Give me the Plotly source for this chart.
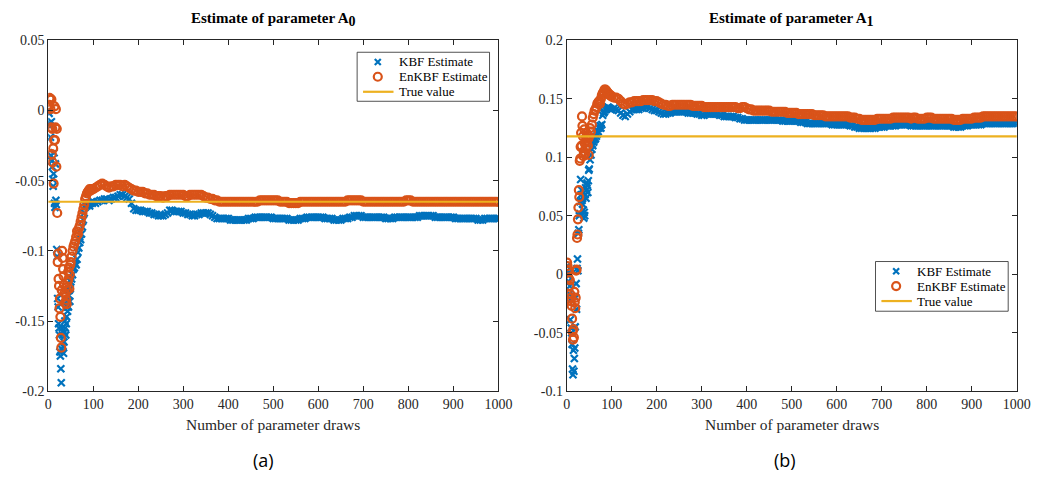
import plotly.graph_objects as go

# Draw numbers at which the estimates are shown
DRAWS = list(range(1, 51)) + list(range(52, 101, 2)) + list(range(105, 1001, 5))

TRUE_A0 = -0.065
TRUE_A1 = 0.118

kbf_a0 = [
    0.000, -0.002, -0.009, -0.011, -0.019, -0.032, -0.008, -0.036, -0.040, -0.049,
    -0.054, -0.045, -0.030, -0.066, -0.069, -0.038, -0.064, -0.067, -0.099, -0.104,
    -0.134, -0.140, -0.152, -0.155, -0.160, -0.172, -0.175, -0.184, -0.194, -0.170,
    -0.155, -0.160, -0.168, -0.173, -0.165, -0.158, -0.150, -0.155, -0.160, -0.152,
    -0.147, -0.140, -0.143, -0.135, -0.140, -0.132, -0.128, -0.136, -0.127, -0.122,
    -0.120, -0.117, -0.113, -0.112, -0.109, -0.110, -0.106, -0.101, -0.098, -0.094,
    -0.092, -0.088, -0.083, -0.078, -0.073, -0.069, -0.067, -0.068, -0.066, -0.067,
    -0.068, -0.066, -0.065, -0.066, -0.065,
    -0.066, -0.065, -0.064, -0.064, -0.063, -0.063, -0.064, -0.063, -0.062, -0.062,
    -0.061, -0.060, -0.060, -0.061, -0.062, -0.063, -0.066, -0.070, -0.071, -0.071,
    -0.071, -0.072, -0.072, -0.072, -0.073, -0.073, -0.074, -0.074, -0.075, -0.075,
    -0.075, -0.074, -0.073, -0.071, -0.071, -0.072, -0.072, -0.072, -0.072, -0.073,
    -0.073, -0.074, -0.074, -0.075, -0.075, -0.074, -0.074, -0.073, -0.073, -0.073,
    -0.073, -0.074, -0.075, -0.076, -0.077, -0.077, -0.077, -0.077, -0.077, -0.077,
    -0.078, -0.078, -0.078, -0.078, -0.078, -0.078, -0.078, -0.078, -0.077, -0.077,
    -0.077, -0.076, -0.076, -0.076, -0.076, -0.076, -0.076, -0.076, -0.076, -0.077,
    -0.077, -0.077, -0.077, -0.077, -0.077, -0.077, -0.078, -0.078, -0.078, -0.078,
    -0.078, -0.077, -0.077, -0.077, -0.076, -0.076, -0.076, -0.076, -0.076, -0.076,
    -0.076, -0.076, -0.077, -0.077, -0.077, -0.077, -0.078, -0.078, -0.078, -0.078,
    -0.077, -0.077, -0.077, -0.076, -0.076, -0.075, -0.075, -0.075, -0.075, -0.076,
    -0.076, -0.076, -0.076, -0.076, -0.076, -0.076, -0.076, -0.076, -0.076, -0.077,
    -0.077, -0.077, -0.077, -0.076, -0.076, -0.076, -0.076, -0.076, -0.076, -0.076,
    -0.076, -0.076, -0.076, -0.076, -0.075, -0.075, -0.075, -0.075, -0.075, -0.075,
    -0.075, -0.076, -0.076, -0.076, -0.076, -0.076, -0.076, -0.076, -0.076, -0.076,
    -0.077, -0.077, -0.077, -0.077, -0.077, -0.077, -0.077, -0.077, -0.077, -0.077,
    -0.078, -0.078, -0.078, -0.077, -0.077, -0.077, -0.077, -0.077, -0.077, -0.077,
]

enkbf_a0 = [
    0.002, 0.004, 0.009, 0.008, 0.001, -0.012, 0.008, -0.031, -0.013, -0.037,
    -0.027, -0.052, -0.021, 0.003, -0.021, -0.012, 0.001, -0.040, -0.013, -0.073,
    -0.108, -0.102, -0.120, -0.125, -0.141, -0.134, -0.147, -0.162, -0.169, -0.128,
    -0.100, -0.105, -0.113, -0.118, -0.124, -0.130, -0.137, -0.131, -0.126, -0.135,
    -0.138, -0.128, -0.122, -0.115, -0.120, -0.112, -0.127, -0.117, -0.110, -0.108,
    -0.104, -0.100, -0.097, -0.095, -0.093, -0.090, -0.086, -0.088, -0.084, -0.082,
    -0.079, -0.076, -0.073, -0.070, -0.067, -0.063, -0.061, -0.059, -0.058, -0.057,
    -0.056, -0.057, -0.056, -0.056, -0.056,
    -0.055, -0.054, -0.053, -0.052, -0.053, -0.054, -0.055, -0.054, -0.054, -0.053,
    -0.053, -0.053, -0.054, -0.053, -0.054, -0.055, -0.056, -0.057, -0.057, -0.058,
    -0.058, -0.058, -0.059, -0.059, -0.060, -0.060, -0.060, -0.061, -0.061, -0.061,
    -0.062, -0.061, -0.061, -0.060, -0.060, -0.060, -0.060, -0.060, -0.060, -0.060,
    -0.061, -0.061, -0.060, -0.060, -0.060, -0.060, -0.060, -0.060, -0.061, -0.062,
    -0.062, -0.063, -0.063, -0.064, -0.064, -0.065, -0.065, -0.065, -0.065, -0.065,
    -0.065, -0.065, -0.065, -0.065, -0.065, -0.065, -0.065, -0.065, -0.065, -0.065,
    -0.065, -0.065, -0.065, -0.064, -0.064, -0.064, -0.064, -0.064, -0.064, -0.064,
    -0.064, -0.064, -0.065, -0.065, -0.065, -0.065, -0.066, -0.066, -0.066, -0.066,
    -0.066, -0.065, -0.065, -0.065, -0.065, -0.065, -0.065, -0.065, -0.065, -0.065,
    -0.065, -0.065, -0.065, -0.065, -0.065, -0.065, -0.065, -0.065, -0.065, -0.065,
    -0.065, -0.065, -0.064, -0.064, -0.064, -0.064, -0.064, -0.064, -0.064, -0.065,
    -0.065, -0.065, -0.065, -0.065, -0.065, -0.065, -0.065, -0.065, -0.065, -0.065,
    -0.065, -0.065, -0.065, -0.065, -0.065, -0.065, -0.065, -0.065, -0.064, -0.064,
    -0.064, -0.065, -0.065, -0.065, -0.065, -0.065, -0.065, -0.065, -0.065, -0.065,
    -0.065, -0.065, -0.065, -0.065, -0.065, -0.065, -0.065, -0.065, -0.065, -0.065,
    -0.065, -0.065, -0.065, -0.065, -0.065, -0.065, -0.065, -0.065, -0.065, -0.065,
    -0.065, -0.065, -0.065, -0.065, -0.065, -0.065, -0.065, -0.065, -0.065, -0.065,
]

kbf_a1 = [
    0.007, 0.003, -0.001, -0.006, 0.001, -0.017, -0.010, -0.039, -0.022, -0.046,
    -0.050, -0.060, -0.081, -0.086, -0.065, -0.083, -0.072, -0.063, -0.045, -0.020,
    -0.008, -0.030, 0.005, 0.013, 0.003, 0.035, 0.038, 0.050, 0.052, 0.062,
    0.081, 0.068, 0.072, 0.063, 0.060, 0.066, 0.055, 0.048, 0.053, 0.050,
    0.068, 0.074, 0.065, 0.072, 0.078, 0.076, 0.070, 0.080, 0.089, 0.090,
    0.098, 0.102, 0.107, 0.110, 0.113, 0.115, 0.116, 0.118, 0.120, 0.122,
    0.125, 0.127, 0.125, 0.128, 0.136, 0.138, 0.139, 0.141, 0.142, 0.142,
    0.143, 0.142, 0.142, 0.141, 0.141,
    0.142, 0.141, 0.140, 0.138, 0.136, 0.135, 0.137, 0.139, 0.141, 0.141,
    0.141, 0.141, 0.142, 0.142, 0.143, 0.143, 0.142, 0.141, 0.140, 0.140,
    0.139, 0.138, 0.137, 0.137, 0.138, 0.138, 0.139, 0.139, 0.139, 0.139,
    0.139, 0.139, 0.139, 0.138, 0.138, 0.138, 0.138, 0.137, 0.137, 0.136,
    0.136, 0.137, 0.137, 0.137, 0.137, 0.137, 0.137, 0.136, 0.136, 0.135,
    0.135, 0.135, 0.135, 0.135, 0.134, 0.134, 0.133, 0.133, 0.132, 0.132,
    0.132, 0.132, 0.132, 0.132, 0.132, 0.132, 0.132, 0.132, 0.132, 0.132,
    0.132, 0.132, 0.132, 0.132, 0.132, 0.131, 0.131, 0.131, 0.131, 0.131,
    0.131, 0.131, 0.131, 0.130, 0.130, 0.130, 0.129, 0.129, 0.129, 0.129,
    0.129, 0.129, 0.129, 0.129, 0.129, 0.129, 0.129, 0.128, 0.128, 0.128,
    0.128, 0.128, 0.128, 0.128, 0.128, 0.127, 0.127, 0.126, 0.126, 0.125,
    0.125, 0.125, 0.125, 0.125, 0.125, 0.125, 0.125, 0.126, 0.126, 0.126,
    0.126, 0.127, 0.127, 0.127, 0.127, 0.127, 0.128, 0.128, 0.128, 0.128,
    0.128, 0.128, 0.127, 0.127, 0.127, 0.127, 0.127, 0.127, 0.127, 0.127,
    0.127, 0.127, 0.127, 0.127, 0.127, 0.127, 0.127, 0.127, 0.127, 0.127,
    0.127, 0.126, 0.126, 0.126, 0.126, 0.127, 0.127, 0.127, 0.128, 0.128,
    0.128, 0.128, 0.128, 0.128, 0.129, 0.129, 0.129, 0.129, 0.129, 0.129,
    0.129, 0.129, 0.129, 0.129, 0.129, 0.129, 0.129, 0.129, 0.129, 0.129,
]

enkbf_a1 = [
    0.010, 0.007, 0.004, -0.003, 0.003, -0.010, -0.005, -0.017, -0.023, -0.020,
    -0.027, -0.038, -0.049, -0.056, -0.047, -0.054, -0.015, -0.024, -0.029, -0.020,
    0.003, 0.004, 0.031, 0.034, 0.047, 0.057, 0.072, 0.066, 0.097, 0.099,
    0.109, 0.121, 0.110, 0.135, 0.127, 0.118, 0.101, 0.105, 0.124, 0.112,
    0.103, 0.108, 0.117, 0.121, 0.113, 0.119, 0.110, 0.116, 0.102, 0.118,
    0.125, 0.122, 0.128, 0.134, 0.137, 0.140, 0.141, 0.143, 0.146, 0.147,
    0.148, 0.146, 0.150, 0.153, 0.155, 0.156, 0.158, 0.158, 0.157, 0.156,
    0.155, 0.154, 0.153, 0.153, 0.152,
    0.151, 0.151, 0.150, 0.148, 0.146, 0.145, 0.146, 0.147, 0.147, 0.148,
    0.148, 0.148, 0.148, 0.149, 0.149, 0.149, 0.149, 0.149, 0.148, 0.148,
    0.147, 0.146, 0.145, 0.145, 0.144, 0.144, 0.145, 0.145, 0.145, 0.145,
    0.145, 0.145, 0.145, 0.145, 0.145, 0.144, 0.144, 0.144, 0.144, 0.144,
    0.143, 0.143, 0.143, 0.143, 0.143, 0.143, 0.143, 0.143, 0.143, 0.143,
    0.143, 0.143, 0.143, 0.143, 0.143, 0.142, 0.142, 0.143, 0.143, 0.142,
    0.141, 0.141, 0.140, 0.140, 0.140, 0.140, 0.140, 0.140, 0.140, 0.140,
    0.139, 0.139, 0.139, 0.139, 0.139, 0.139, 0.139, 0.138, 0.138, 0.138,
    0.138, 0.138, 0.137, 0.137, 0.137, 0.137, 0.137, 0.137, 0.137, 0.136,
    0.136, 0.136, 0.136, 0.136, 0.135, 0.135, 0.135, 0.135, 0.135, 0.135,
    0.135, 0.135, 0.135, 0.135, 0.135, 0.134, 0.134, 0.134, 0.133, 0.133,
    0.132, 0.132, 0.132, 0.132, 0.132, 0.132, 0.132, 0.133, 0.133, 0.133,
    0.133, 0.133, 0.133, 0.133, 0.134, 0.134, 0.134, 0.134, 0.134, 0.134,
    0.134, 0.134, 0.133, 0.134, 0.134, 0.133, 0.133, 0.133, 0.133, 0.134,
    0.134, 0.134, 0.133, 0.133, 0.133, 0.133, 0.133, 0.133, 0.133, 0.133,
    0.133, 0.132, 0.132, 0.132, 0.132, 0.133, 0.133, 0.133, 0.133, 0.133,
    0.134, 0.134, 0.134, 0.134, 0.135, 0.135, 0.135, 0.135, 0.135, 0.135,
    0.135, 0.135, 0.135, 0.135, 0.135, 0.135, 0.135, 0.135, 0.135, 0.135,
]

for series in (kbf_a0, enkbf_a0, kbf_a1, enkbf_a1):
    assert len(series) == len(DRAWS), len(series)

Y0_TICKS = [-0.2, -0.15, -0.1, -0.05, 0, 0.05]
Y0_LABELS = ["-0.2", "-0.15", "-0.1", "-0.05", "0", "0.05"]
Y1_TICKS = [-0.1, -0.05, 0, 0.05, 0.1, 0.15, 0.2]
Y1_LABELS = ["-0.1", "-0.05", "0", "0.05", "0.1", "0.15", "0.2"]
X_TICKS = list(range(0, 1001, 100))
SERIES_NAMES = ["KBF Estimate", "EnKBF Estimate", "True value"]

BLUE = "#0072BD"
ORANGE = "#D95319"
GOLD = "#EDB120"
AXIS = "#262626"
SERIF = "Liberation Serif, Times New Roman, serif"

W, H = 1050, 482


def px(x):
    return x / W


def py(y):
    return 1 - y / H


Y_DOM = [py(396.5), py(34.5)]
X1_DOM = [px(45), px(503)]
X2_DOM = [px(572.5), px(1030.5)]

KBF_MARKER = dict(symbol="x-thin", size=7, color=BLUE, line=dict(color=BLUE, width=2.2))
ENKBF_MARKER = dict(symbol="circle-open", size=8, color=ORANGE, line=dict(color=ORANGE, width=2.2))

fig = go.Figure()


def add_panel(kbf, enkbf, truth, xa, ya):
    fig.add_trace(go.Scatter(x=DRAWS, y=kbf, mode="markers", name=SERIES_NAMES[0],
                             xaxis=xa, yaxis=ya, showlegend=False, marker=KBF_MARKER))
    fig.add_trace(go.Scatter(x=DRAWS, y=enkbf, mode="markers", name=SERIES_NAMES[1],
                             xaxis=xa, yaxis=ya, showlegend=False, marker=ENKBF_MARKER))
    fig.add_trace(go.Scatter(x=[0, 1000], y=[truth, truth], mode="lines", name=SERIES_NAMES[2],
                             xaxis=xa, yaxis=ya, showlegend=False,
                             line=dict(color=GOLD, width=2.2)))


add_panel(kbf_a0, enkbf_a0, TRUE_A0, "x", "y")
add_panel(kbf_a1, enkbf_a1, TRUE_A1, "x2", "y2")


# Legend boxes, drawn on a pixel-space overlay (box left, top, right, bottom)
def add_legend_box(left, top, right, bottom):
    row_y = [top + 10, top + 25.3, top + 40.8]
    sym_x = left + 21
    fig.add_trace(go.Scatter(
        x=[left, right, right, left, left], y=[top, top, bottom, bottom, top],
        mode="lines", fill="toself", fillcolor="white",
        line=dict(color=AXIS, width=0.8), xaxis="x3", yaxis="y3",
        showlegend=False, hoverinfo="skip"))
    fig.add_trace(go.Scatter(x=[sym_x], y=[row_y[0]], mode="markers", xaxis="x3", yaxis="y3",
                             showlegend=False, hoverinfo="skip",
                             marker=dict(KBF_MARKER, size=6)))
    fig.add_trace(go.Scatter(x=[sym_x], y=[row_y[1]], mode="markers", xaxis="x3", yaxis="y3",
                             showlegend=False, hoverinfo="skip", marker=ENKBF_MARKER))
    fig.add_trace(go.Scatter(x=[left + 6, left + 37], y=[row_y[2], row_y[2]], mode="lines",
                             xaxis="x3", yaxis="y3", showlegend=False, hoverinfo="skip",
                             line=dict(color=GOLD, width=2.2)))
    for name, ry in zip(SERIES_NAMES, row_y):
        fig.add_annotation(text=name, x=px(left + 40.5), y=py(ry),
                           xref="paper", yref="paper", xanchor="left", yanchor="middle",
                           showarrow=False, font=dict(family=SERIF, size=13, color="black"))


add_legend_box(359.3, 46.7, 494, 97.3)
add_legend_box(886.7, 262.7, 1021.7, 314)

axis_common = dict(
    showline=True, linecolor=AXIS, linewidth=0.8, mirror="ticks",
    ticks="inside", ticklen=5, tickwidth=0.8, tickcolor=AXIS,
    showgrid=False, zeroline=False,
    tickfont=dict(family=SERIF, size=14, color=AXIS),
)

fig.update_layout(
    width=W, height=H,
    margin=dict(l=0, r=0, t=0, b=0),
    paper_bgcolor="white", plot_bgcolor="rgba(0,0,0,0)",
    xaxis=dict(domain=X1_DOM, range=[0, 1000], tickvals=X_TICKS, anchor="y", **axis_common),
    yaxis=dict(domain=Y_DOM, range=[-0.2, 0.05], tickvals=Y0_TICKS, ticktext=Y0_LABELS,
               anchor="x", **axis_common),
    xaxis2=dict(domain=X2_DOM, range=[0, 1000], tickvals=X_TICKS, anchor="y2", **axis_common),
    yaxis2=dict(domain=Y_DOM, range=[-0.1, 0.2], tickvals=Y1_TICKS, ticktext=Y1_LABELS,
                anchor="x2", **axis_common),
    xaxis3=dict(domain=[0, 1], range=[0, W], visible=False, fixedrange=True, anchor="y3"),
    yaxis3=dict(domain=[0, 1], range=[H, 0], visible=False, fixedrange=True, anchor="x3"),
)

for sub, cx in (("0", 274), ("1", 801.5)):
    fig.add_annotation(
        text=f"<b>Estimate of parameter A<sub><span style='font-size:14px'>{sub}</span></sub></b>",
        x=px(cx), y=py(13), xref="paper", yref="paper",
        xanchor="center", yanchor="middle", showarrow=False,
        font=dict(family=SERIF, size=15, color="black"),
    )

for cx in (274, 801.5):
    fig.add_annotation(
        text="Number of parameter draws", x=px(cx), y=py(431),
        xref="paper", yref="paper", xanchor="center", yanchor="middle",
        showarrow=False, font=dict(family=SERIF, size=15.5, color=AXIS),
    )

for label, cx in (("(a)", 264), ("(b)", 795)):
    fig.add_annotation(
        text=label, x=px(cx), y=py(468), xref="paper", yref="paper",
        xanchor="center", yanchor="middle", showarrow=False,
        font=dict(family="Open Sans, DejaVu Sans, sans-serif", size=18, color="black"),
    )

fig.write_html("out.html")
